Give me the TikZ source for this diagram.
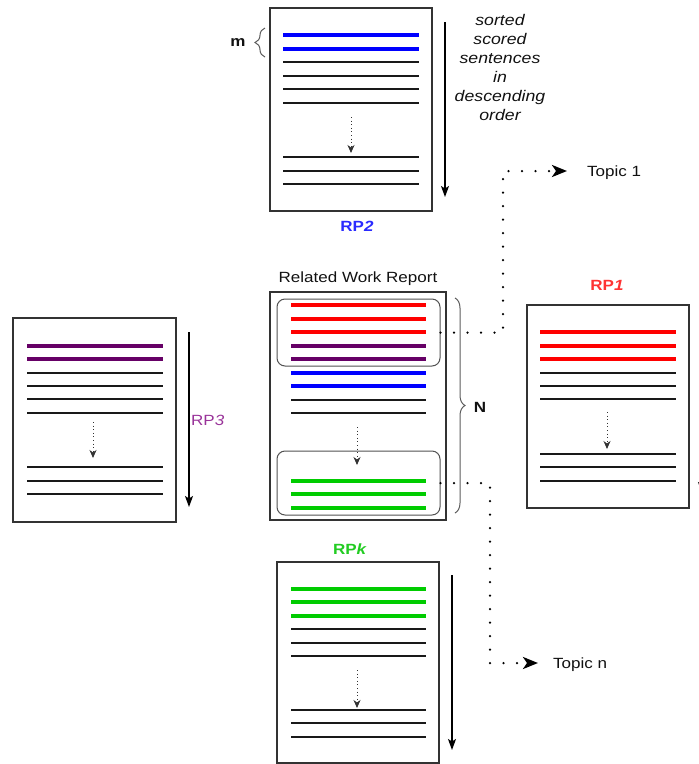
\documentclass[tikz,border=0pt]{standalone}
\usepackage{fontspec}
\setmainfont{Liberation Sans}[FakeStretch=1.15]
\usetikzlibrary{arrows.meta,decorations.pathreplacing}

\definecolor{txt}{HTML}{111111}
\definecolor{frame}{HTML}{333333}
\definecolor{hlred}{HTML}{FF0000}
\definecolor{hlblue}{HTML}{0000FF}
\definecolor{hlpurple}{HTML}{660066}
\definecolor{hlgreen}{HTML}{00CC00}
\definecolor{lblred}{HTML}{FF3333}
\definecolor{lblblue}{HTML}{2A2AFF}
\definecolor{lblpurple}{HTML}{993399}
\definecolor{lblgreen}{HTML}{22CC22}

\begin{document}
\begin{tikzpicture}[x=1pt,y=-1pt,
  font=\fontsize{14.8}{19}\selectfont, text=txt,
  docbox/.style={draw=frame, line width=1.2pt, fill=white, inner sep=0pt},
  grouping/.style={draw=frame!85, line width=1pt, rounded corners=8pt, inner sep=0pt},
  rule/.style={line width=1.2pt, black!90},
  hl/.style={line width=3.2pt},
  inarrow/.style={line width=0.9pt, black!80, dash pattern=on 1pt off 2.6pt,
    -{Stealth[length=8pt,width=7pt,inset=2.5pt]}},
  longarrow/.style={line width=1.3pt, black, -{Stealth[length=11pt,width=8pt,inset=2.5pt]}},
  dotconn/.style={line width=2.5pt, line cap=round, black, dash pattern=on 0pt off 13.5pt,
    -{Stealth[length=15pt,width=12pt,inset=4pt]}},
  bracestyle/.style={draw=frame!80, line width=1pt,
    decorate, decoration={brace, amplitude=10pt}},
  rplabel/.style={font=\fontsize{14.8}{19}\selectfont\bfseries}
]
\useasboundingbox (0,0) rectangle (699,764);

% ---------- RP2 (top) ----------
\node[docbox, minimum width=162pt, minimum height=203pt] (rp2) at (351,109.5) {};
\foreach \y in {35,49} \draw[hl, hlblue] (283,\y) -- (419,\y);
\foreach \y in {62,76,89,103,157,171,184} \draw[rule] (283,\y) -- (419,\y);
\draw[inarrow] (351,117) -- (351,153);
\draw[longarrow] (445,22) -- (445,197);
\node[rplabel, text=lblblue] (rp2lbl) at (357,226) {RP\textit{2}};
\draw[bracestyle] (265,57) -- (265,28);
\node[font=\fontsize{14.8}{19}\selectfont\bfseries] (mlbl) at (238,43) {m};
\node[align=center, font=\fontsize{15.4}{19}\selectfont\itshape] (sortlbl) at (500,67)
  {sorted\\scored\\sentences\\in\\descending\\order};

% ---------- Related Work Report (centre) ----------
\node (rwrlbl) at (358,279) {Related Work Report};
\node[docbox, minimum width=176pt, minimum height=228pt] (rwr) at (358,406) {};
\node[grouping, minimum width=163pt, minimum height=67pt] (topg) at (358.5,332.5) {};
\node[grouping, minimum width=163pt, minimum height=64pt] (botg) at (358.5,483) {};
\foreach \y in {305,319,332} \draw[hl, hlred] (291,\y) -- (426,\y);
\foreach \y in {346,359} \draw[hl, hlpurple] (291,\y) -- (426,\y);
\foreach \y in {373,386} \draw[hl, hlblue] (291,\y) -- (426,\y);
\foreach \y in {400,413} \draw[rule] (291,\y) -- (426,\y);
\draw[inarrow] (357,427) -- (357,465);
\foreach \y in {481,494,508} \draw[hl, hlgreen] (291,\y) -- (426,\y);
\draw[bracestyle] (455,298) -- (455,513);
\node[font=\fontsize{14.8}{19}\selectfont\bfseries] (nlbl) at (480,407) {N};

% ---------- RP1 (right) ----------
\node[rplabel, text=lblred] (rp1lbl) at (607,285) {RP\textit{1}};
\node[docbox, minimum width=162pt, minimum height=203pt] (rp1) at (608,406.5) {};
\foreach \y in {332,346,359} \draw[hl, hlred] (540,\y) -- (676,\y);
\foreach \y in {373,386,399,454,467,481} \draw[rule] (540,\y) -- (676,\y);
\draw[inarrow] (607,412) -- (607,449);
\draw[longarrow] (702,320) -- (702,493);

% ---------- RP3 (left) ----------
\node[docbox, minimum width=163pt, minimum height=204pt] (rp3) at (94.5,420) {};
\foreach \y in {346,359} \draw[hl, hlpurple] (27,\y) -- (163,\y);
\foreach \y in {373,386,399,413,467,481,494} \draw[rule] (27,\y) -- (163,\y);
\draw[inarrow] (93,422) -- (93,458);
\draw[longarrow] (189,332) -- (189,507);
\node[text=lblpurple, anchor=west, inner sep=0pt] (rp3lbl) at (191,420) {RP\textit{3}};

% ---------- RPk (bottom) ----------
\node[rplabel, text=lblgreen] (rpklbl) at (350,549) {RP\textit{k}};
\node[docbox, minimum width=162pt, minimum height=201pt] (rpk) at (358,662.5) {};
\foreach \y in {589,602,616} \draw[hl, hlgreen] (291,\y) -- (426,\y);
\foreach \y in {629,643,656,710,723,737} \draw[rule] (291,\y) -- (426,\y);
\draw[inarrow] (357,670) -- (357,708);
\draw[longarrow] (452,575) -- (452,750);

% ---------- topic connectors ----------
\node[anchor=base west, inner sep=0pt] (t1) at (587,176.5) {Topic 1};
\node[anchor=base west, inner sep=0pt] (tn) at (553,668.5) {Topic n};
\coordinate (c1) at (503,171);
\coordinate (c2) at (490,663);
\draw[dotconn, shorten >=20pt] (topg.east) -| (c1) -- (c1 -| t1.west);
\draw[dotconn, shorten >=15pt] (botg.east) -| (c2) -- (c2 -| tn.west);
\end{tikzpicture}
\end{document}
